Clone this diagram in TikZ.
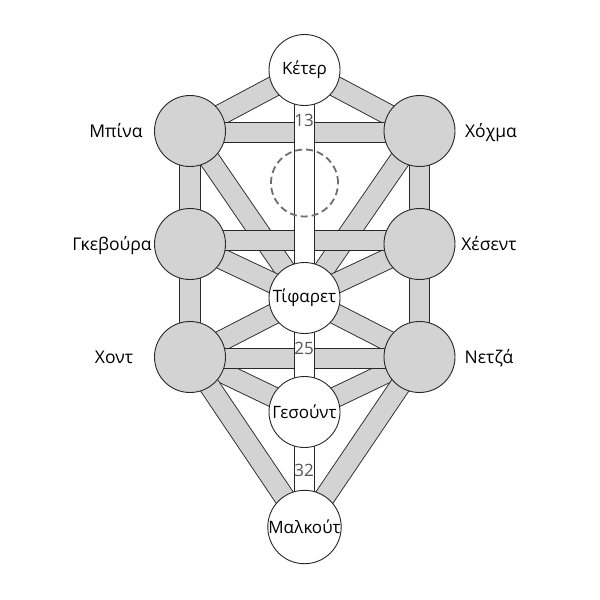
\documentclass[tikz,border=0pt]{standalone}
\usepackage{fontspec}
\setmainfont{Open Sans}
\usetikzlibrary{backgrounds}
\definecolor{barfill}{RGB}{211,211,211}
\definecolor{edge}{RGB}{40,40,40}
\definecolor{numgray}{RGB}{85,85,85}
\definecolor{daatgray}{RGB}{110,110,110}
\begin{document}
\begin{tikzpicture}[x=1pt,y=-1pt,
  sefgray/.style={circle,draw=edge,line width=0.9pt,fill=barfill,minimum size=71pt,inner sep=0pt},
  sefwhite/.style={sefgray,fill=white,font=\fontsize{17}{19}\selectfont},
  daatstyle/.style={circle,draw=daatgray,line width=1.8pt,dash pattern=on 7pt off 4pt,minimum size=67pt,inner sep=0pt},
  bar/.style={draw=edge,line width=0.9pt,double=barfill,double distance=19.5pt},
  wbar/.style={bar,double=white},
  sidelabel/.style={font=\fontsize{17.5}{19}\selectfont,anchor=base},
  numlabel/.style={font=\fontsize{17}{19}\selectfont,text=numgray,inner sep=0pt}
]
\useasboundingbox (0,0) rectangle (600,600);

% sephirot
\node[sefwhite] (keter) at (304.5,70) {Κέτερ};
\node[sefgray] (chokmah) at (419.5,131) {};
\node[sefgray] (binah) at (190,131) {};
\node[sefgray] (chesed) at (419.5,244) {};
\node[sefgray] (gevurah) at (190,244) {};
\node[sefwhite] (tiferet) at (304.5,298) {Τίφαρετ};
\node[sefgray] (netzach) at (419.5,357) {};
\node[sefgray] (hod) at (190,357) {};
\node[sefwhite] (yesod) at (304.5,412) {Γεσούντ};
\node[sefwhite] (malkuth) at (304.5,527) {Μαλκούτ};
\node[daatstyle] (daat) at (304.5,183) {};

% paths
\begin{pgfonlayer}{background}
  \fill[white] (0,0) rectangle (600,600);
  \draw[bar] (keter.center) -- (binah.center);
  \draw[bar] (keter.center) -- (chokmah.center);
  \draw[bar] (binah.center) -- (tiferet.center);
  \draw[bar] (chokmah.center) -- (tiferet.center);
  \draw[bar] (gevurah.center) -- (tiferet.center);
  \draw[bar] (chesed.center) -- (tiferet.center);
  \draw[bar] (hod.center) -- (tiferet.center);
  \draw[bar] (netzach.center) -- (tiferet.center);
  \draw[bar] (hod.center) -- (yesod.center);
  \draw[bar] (netzach.center) -- (yesod.center);
  \draw[bar] (hod.center) -- (malkuth.center);
  \draw[bar] (netzach.center) -- (malkuth.center);
  \draw[bar] (binah.center) -- (gevurah.center);
  \draw[bar] (chokmah.center) -- (chesed.center);
  \draw[bar] (gevurah.center) -- (hod.center);
  \draw[bar] (chesed.center) -- (netzach.center);
  \draw[bar] ([yshift=-1.5pt]binah.center) -- ([yshift=-1.5pt]chokmah.center);
  \draw[bar] ([yshift=3.5pt]gevurah.center) -- ([yshift=3.5pt]chesed.center);
  \draw[bar] ([yshift=-1.5pt]hod.center) -- ([yshift=-1.5pt]netzach.center);
  \draw[wbar] (keter.center) -- (tiferet.center);
  \draw[wbar] (tiferet.center) -- (yesod.center);
  \draw[wbar] (yesod.center) -- (malkuth.center);
\end{pgfonlayer}

% path numbers
\node[numlabel] (n13) at (304,120) {13};
\node[numlabel] (n25) at (304,348) {25};
\node[numlabel] (n32) at (304,470) {32};

% side names
\node[sidelabel] (lbinah) at (116,137) {Μπίνα};
\node[sidelabel] (lchokmah) at (491,137) {Χόχμα};
\node[sidelabel] (lgevurah) at (112,250) {Γκεβούρα};
\node[sidelabel] (lchesed) at (489,250) {Χέσεντ};
\node[sidelabel] (lhod) at (114,363) {Χοντ};
\node[sidelabel] (lnetzach) at (489,363) {Νετζά};
\end{tikzpicture}
\end{document}
